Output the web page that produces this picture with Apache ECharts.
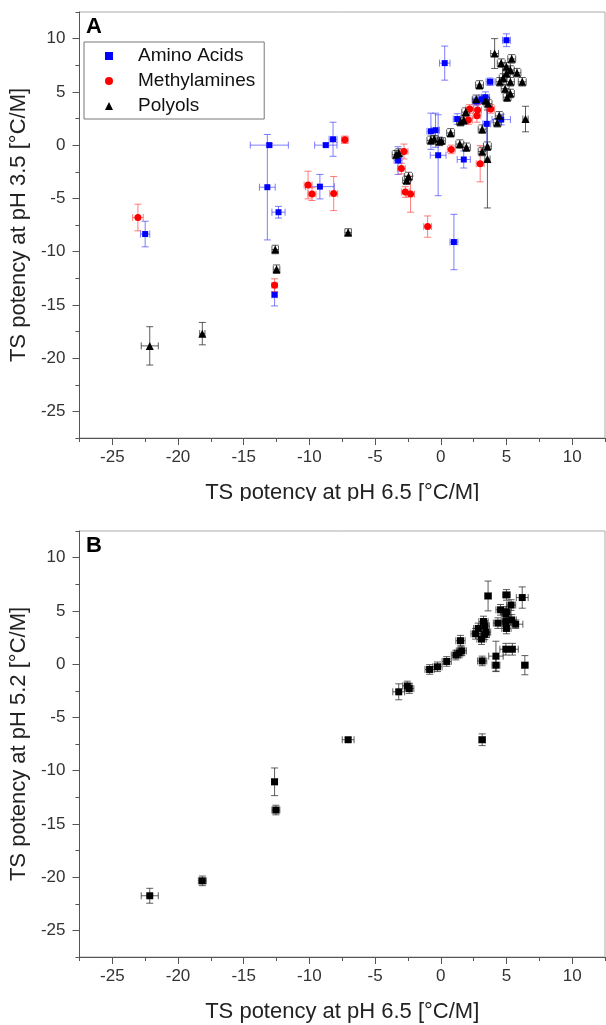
<!DOCTYPE html>
<html>
<head>
<meta charset="utf-8">
<title>TS potency vs pH</title>
<script src="https://cdn.jsdelivr.net/npm/echarts@6/dist/echarts.min.js"></script>
<style>
  html, body { margin: 0; padding: 0; background: #fff; }
  #main { width: 606px; height: 1025px; }
</style>
</head>
<body>
<div id="main"></div>
<script>
// each point: [x (pH 6.5), y, xErr, yErr]
const aminoAcids = [
  [5.0, 9.85, 0.3, 0.6], [0.3, 7.7, 0.4, 1.6], [3.75, 5.95, 0.3, 0.35],
  [-13.05, 0.0, 1.45, 0.15], [-13.2, -3.95, 0.6, 4.95], [-12.35, -6.3, 0.5, 0.55],
  [-22.5, -8.35, 0.35, 1.2], [-8.75, 0.0, 0.85, 0.15], [-8.2, 0.55, 0.3, 1.6],
  [-9.2, -3.9, 1.1, 1.15], [-12.65, -14.05, 0.2, 1.05], [1.0, -9.1, 0.3, 2.6],
  [-3.25, -1.45, 0.3, 1.3], [-0.2, -0.95, 0.6, 3.8], [-0.75, 1.3, 0.3, 1.7],
  [-0.4, 1.4, 0.3, 1.6], [1.75, -1.35, 0.5, 0.8], [1.25, 2.45, 0.3, 0.5],
  [3.4, 4.5, 0.3, 0.5], [3.1, 4.3, 0.3, 0.4], [3.5, 2.0, 0.3, 2.5],
  [4.6, 2.4, 0.7, 0.5], [2.7, 4.1, 0.3, 0.4]
];
const methylamines = [
  [-23.05, -6.8, 0.4, 1.25], [-7.3, 0.5, 0.25, 0.35], [-10.1, -3.75, 0.3, 1.3],
  [-9.8, -4.6, 0.3, 0.6], [-8.15, -4.55, 0.3, 1.6], [-12.65, -13.15, 0.2, 0.6],
  [-1.0, -7.65, 0.3, 1.0], [-3.0, -2.2, 0.3, 0.5], [-2.8, -0.6, 0.3, 0.7],
  [-2.7, -4.4, 0.3, 0.5], [-2.3, -4.6, 0.3, 1.7], [0.8, -0.4, 0.3, 0.4],
  [3.0, -1.75, 0.3, 1.7], [2.2, 3.4, 0.3, 0.4], [2.8, 3.3, 0.3, 0.5],
  [2.75, 2.75, 0.3, 0.6], [2.1, 2.35, 0.3, 0.4], [3.8, 3.4, 0.3, 0.4]
];
const polyols = [
  [-22.15, -18.85, 0.65, 1.8], [-18.15, -17.7, 0.2, 1.05], [-12.6, -9.8, 0.25, 0.4],
  [-12.5, -11.65, 0.25, 0.4], [-7.05, -8.2, 0.25, 0.35], [4.1, 8.6, 0.3, 1.4],
  [4.6, 7.7, 0.3, 0.4], [5.0, 7.35, 0.3, 0.4], [5.4, 8.1, 0.3, 0.4],
  [5.3, 7.05, 0.3, 0.4], [5.8, 6.8, 0.3, 0.4], [5.0, 6.75, 0.3, 0.4],
  [4.75, 6.3, 0.3, 0.4], [5.3, 5.95, 0.3, 0.4], [6.2, 5.95, 0.3, 0.4],
  [4.5, 5.95, 0.3, 0.4], [2.95, 5.65, 0.3, 0.4], [4.9, 5.3, 0.3, 0.4],
  [5.3, 4.85, 0.3, 0.4], [5.05, 4.5, 0.3, 0.4], [2.7, 4.3, 0.3, 0.4],
  [3.4, 4.2, 0.3, 0.4], [3.6, 3.9, 0.3, 0.4], [1.9, 3.1, 0.3, 0.4],
  [1.75, 2.35, 0.3, 0.4], [1.5, 2.2, 0.3, 0.4], [4.45, 2.75, 0.3, 0.4],
  [4.3, 2.1, 0.3, 0.4], [3.15, 1.5, 0.3, 0.4], [6.45, 2.45, 0.2, 1.2],
  [-0.5, 0.6, 0.3, 0.3], [0.05, 0.4, 0.3, 0.3], [0.75, 1.15, 0.3, 0.4],
  [1.45, 0.1, 0.3, 0.4], [1.95, -0.2, 0.3, 0.4], [3.15, -0.6, 0.3, 0.4],
  [3.55, -0.1, 0.3, 0.4], [3.55, -1.3, 0.2, 4.6], [-3.2, -0.75, 0.3, 0.4],
  [-3.4, -0.9, 0.3, 0.4], [-2.45, -2.95, 0.3, 0.4], [-2.6, -3.3, 0.3, 0.4],
  [-0.75, 0.45, 0.3, 0.4], [-0.1, 0.35, 0.3, 0.4]
];
// panel B: pH 5.2 vs pH 6.5
const allOsmolytes = [
  [-22.15, -21.75, 0.65, 0.7], [-18.15, -20.35, 0.3, 0.45], [-12.65, -11.05, 0.2, 1.3],
  [-12.55, -13.7, 0.3, 0.45], [-7.05, -7.1, 0.45, 0.2], [3.15, -7.1, 0.25, 0.55],
  [-3.2, -2.6, 0.45, 0.75], [-2.55, -2.05, 0.35, 0.45], [-2.4, -2.3, 0.35, 0.45],
  [-0.85, -0.5, 0.35, 0.45], [-0.25, -0.25, 0.35, 0.45], [0.45, 0.25, 0.35, 0.45],
  [1.15, 0.85, 0.35, 0.45], [1.4, 1.05, 0.35, 0.45], [1.6, 1.25, 0.35, 0.45],
  [1.5, 2.2, 0.35, 0.5], [3.15, 0.3, 0.35, 0.45], [4.2, 0.75, 0.55, 1.4],
  [4.2, -0.1, 0.3, 0.6], [4.95, 1.4, 0.45, 0.55], [5.45, 1.4, 0.45, 0.55],
  [6.4, -0.1, 0.25, 0.9], [3.6, 6.4, 0.25, 1.4], [5.0, 6.5, 0.3, 0.5],
  [6.2, 6.25, 0.45, 1.0], [4.55, 5.1, 0.35, 0.5], [5.0, 4.9, 0.35, 0.5],
  [5.35, 5.55, 0.35, 0.5], [4.35, 3.85, 0.35, 0.5], [4.95, 4.0, 0.35, 0.5],
  [5.4, 4.15, 0.35, 0.5], [5.7, 3.75, 0.55, 0.4], [4.95, 4.7, 0.35, 0.5],
  [5.0, 3.35, 0.35, 0.5], [2.65, 2.85, 0.35, 0.5], [2.85, 3.35, 0.35, 0.5],
  [3.35, 3.6, 0.35, 0.5], [3.35, 2.8, 0.35, 0.5], [3.1, 2.35, 0.35, 0.5],
  [3.45, 3.0, 0.35, 0.5], [3.25, 4.0, 0.35, 0.5]
];
const tickLabels = [-25, -20, -15, -10, -5, 0, 5, 10];

const FONT = '"Liberation Sans", Arial, sans-serif';
var chart = echarts.init(document.getElementById('main'));

// error bars (x and y) drawn through the axes
function errorBars(data, color, idx) {
  return {
    type: 'custom',
    xAxisIndex: idx,
    yAxisIndex: idx,
    data: data,
    silent: true,
    z: 2,
    encode: { x: 0, y: 1 },
    renderItem: function (params, api) {
      var x = api.value(0), y = api.value(1), xe = api.value(2), ye = api.value(3);
      var cap = 3.5;
      var style = { stroke: color, lineWidth: 1 };
      var lo = api.coord([x, y - ye]), hi = api.coord([x, y + ye]);
      var l = api.coord([x - xe, y]), r = api.coord([x + xe, y]);
      var children = [
        { type: 'line', shape: { x1: lo[0], y1: lo[1], x2: hi[0], y2: hi[1] }, style: style },
        { type: 'line', shape: { x1: lo[0] - cap, y1: lo[1], x2: lo[0] + cap, y2: lo[1] }, style: style },
        { type: 'line', shape: { x1: hi[0] - cap, y1: hi[1], x2: hi[0] + cap, y2: hi[1] }, style: style },
        { type: 'line', shape: { x1: l[0], y1: l[1], x2: r[0], y2: r[1] }, style: style },
        { type: 'line', shape: { x1: l[0], y1: l[1] - cap, x2: l[0], y2: l[1] + cap }, style: style },
        { type: 'line', shape: { x1: r[0], y1: r[1] - cap, x2: r[0], y2: r[1] + cap }, style: style }
      ];
      return { type: 'group', children: children };
    }
  };
}

function xAxisOf(idx) {
  return {
    gridIndex: idx,
    type: 'value',
    min: -27.5,
    max: 12.5,
    interval: 5,
    name: 'TS potency at pH 6.5 [°C/M]',
    nameLocation: 'middle',
    nameGap: 44,
    nameTextStyle: { fontSize: 22, color: '#222', fontFamily: FONT },
    splitLine: { show: false },
    axisLine: { onZero: false, lineStyle: { color: '#555', width: 1 } },
    axisTick: { length: 4, lineStyle: { color: '#555' } },
    minorTick: { show: true, splitNumber: 2, length: 7, lineStyle: { color: '#555' } },
    axisLabel: { customValues: tickLabels, margin: 11, fontSize: 17, color: '#333', fontFamily: FONT }
  };
}

function yAxisOf(idx, name) {
  return {
    gridIndex: idx,
    type: 'value',
    min: -27.5,
    max: 12.5,
    interval: 5,
    name: name,
    nameLocation: 'middle',
    nameGap: 41,
    nameTextStyle: { fontSize: 22, color: '#222', fontFamily: FONT },
    splitLine: { show: false },
    axisLine: { onZero: false, lineStyle: { color: '#555', width: 1 } },
    axisTick: { length: 4, lineStyle: { color: '#555' } },
    minorTick: { show: true, splitNumber: 2, length: 7, lineStyle: { color: '#555' } },
    axisLabel: { customValues: tickLabels, margin: 14, fontSize: 17, color: '#333', fontFamily: FONT }
  };
}

var option = {
  animation: false,
  backgroundColor: '#fff',
  title: [
    { text: 'A', left: 86, top: 16, padding: 0, textStyle: { fontSize: 22, fontWeight: 'bold', color: '#000', fontFamily: FONT } },
    { text: 'B', left: 86, top: 535, padding: 0, textStyle: { fontSize: 22, fontWeight: 'bold', color: '#000', fontFamily: FONT } }
  ],
  legend: {
    data: ['Amino Acids', 'Methylamines', 'Polyols'],
    orient: 'vertical',
    left: 84,
    top: 42,
    padding: [4, 9, 3, 21],
    itemWidth: 8,
    itemHeight: 8,
    itemGap: 5,
    borderColor: '#777',
    borderWidth: 1,
    textStyle: { fontSize: 19, lineHeight: 20, color: '#111', fontFamily: FONT, padding: [0, 0, 0, 20] }
  },
  grid: [
    { left: 79, top: 12, width: 526, height: 426, show: true, borderColor: '#aaa', borderWidth: 1 },
    { left: 79, top: 531, width: 526, height: 426, show: true, borderColor: '#aaa', borderWidth: 1 }
  ],
  xAxis: [xAxisOf(0), xAxisOf(1)],
  yAxis: [yAxisOf(0, 'TS potency at pH 3.5 [°C/M]'), yAxisOf(1, 'TS potency at pH 5.2 [°C/M]')],
  graphic: [
    // the original figure is cropped just under panel A's axis title
    { type: 'rect', left: 0, top: 501, shape: { width: 606, height: 28 }, style: { fill: '#fff' }, z: 100 }
  ],
  series: [
    errorBars(aminoAcids, 'rgba(70,70,255,0.7)', 0),
    errorBars(methylamines, 'rgba(255,70,70,0.7)', 0),
    errorBars(polyols, 'rgba(40,40,40,0.75)', 0),
    errorBars(allOsmolytes, 'rgba(40,40,40,0.75)', 1),
    {
      name: 'Amino Acids', type: 'scatter', xAxisIndex: 0, yAxisIndex: 0, z: 5,
      symbol: 'rect', symbolSize: 6, itemStyle: { color: '#0000ff', opacity: 1 },
      data: aminoAcids.map(function (d) { return [d[0], d[1]]; })
    },
    {
      name: 'Methylamines', type: 'scatter', xAxisIndex: 0, yAxisIndex: 0, z: 5,
      symbol: 'circle', symbolSize: 7, itemStyle: { color: '#ff0000', opacity: 1 },
      data: methylamines.map(function (d) { return [d[0], d[1]]; })
    },
    {
      name: 'Polyols', type: 'scatter', xAxisIndex: 0, yAxisIndex: 0, z: 5,
      symbol: 'triangle', symbolSize: 8, itemStyle: { color: '#000', opacity: 1 },
      data: polyols.map(function (d) { return [d[0], d[1]]; })
    },
    {
      name: 'pH 5.2', type: 'scatter', xAxisIndex: 1, yAxisIndex: 1, z: 5,
      symbol: 'rect', symbolSize: 7, itemStyle: { color: '#000', opacity: 1 },
      data: allOsmolytes.map(function (d) { return [d[0], d[1]]; })
    }
  ]
};
option && chart.setOption(option);
</script>
</body>
</html>
